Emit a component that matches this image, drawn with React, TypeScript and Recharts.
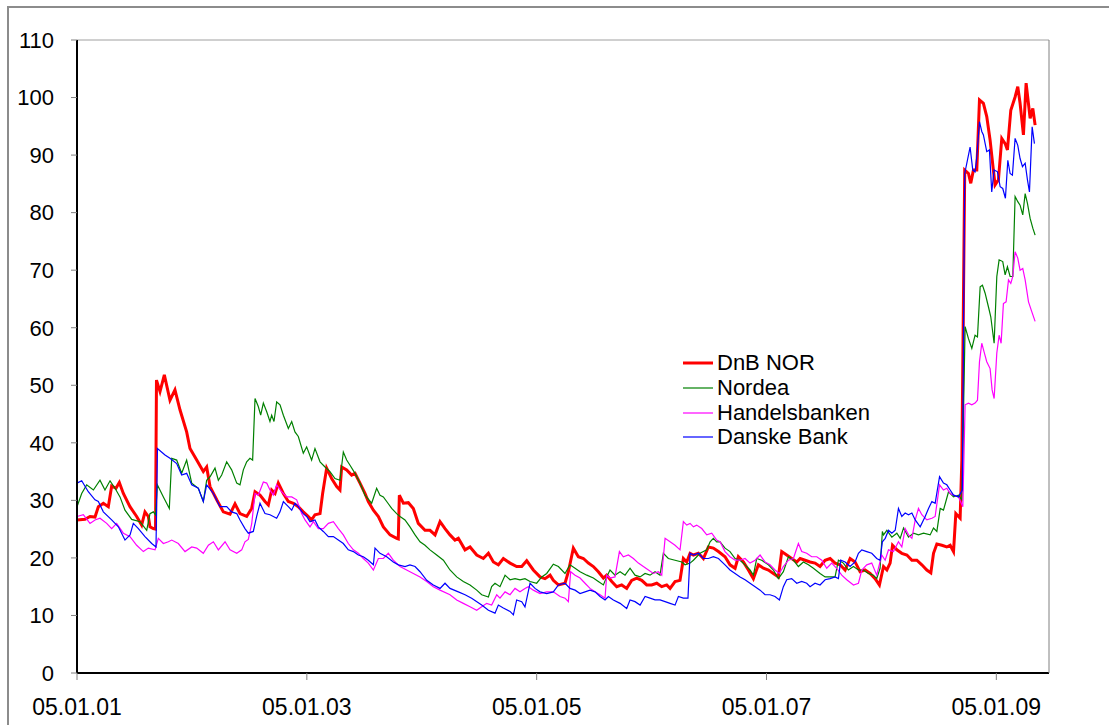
import React from 'react'
import { LineChart, Line, XAxis, YAxis, ReferenceLine, Legend } from 'recharts'

// x is months since 05.01.01, y is the series value
const xTickMonths = [0, 24, 48, 72, 96]
const xTickLabels = ['05.01.01', '05.01.03', '05.01.05', '05.01.07', '05.01.09']
const yTicks = [0, 10, 20, 30, 40, 50, 60, 70, 80, 90, 100, 110]

const dnbNor: [number, number][] = [
    [0, 26.6], [0.84, 26.7], [1.36, 27.2], [1.88, 27.1], [2.23, 28.9], [2.75, 29.5], [3.27, 28.9], [3.62, 32.5],
    [4.07, 32.1], [4.42, 33.1], [4.84, 31.2], [5.53, 28.9], [6.23, 27.2], [6.75, 25.7], [7.1, 28.0], [7.45, 27.2],
    [7.62, 25.4], [7.97, 25.1], [8.2, 25.0], [8.3, 50.9], [8.67, 48.9], [9.12, 51.8], [9.71, 47.4], [10.23, 49.2],
    [10.76, 45.7], [11.45, 41.9], [11.8, 39.0], [12.5, 37.0], [13.19, 35.0], [13.54, 35.8], [13.89, 32.4], [14.59, 30.1],
    [15.28, 28.0], [15.98, 27.6], [16.5, 29.4], [17.02, 27.7], [17.72, 27.2], [18.24, 28.6], [18.59, 31.5], [19.11, 30.9],
    [19.63, 29.8], [19.98, 29.2], [20.33, 31.8], [20.68, 31.2], [21.02, 33.0], [21.55, 31.2], [22.07, 29.8], [22.59, 29.5],
    [23.11, 28.9], [23.63, 28.0], [24.16, 27.2], [24.5, 26.6], [24.85, 27.5], [25.38, 27.7], [25.65, 31.2], [26.07, 35.6],
    [26.59, 33.8], [27.12, 32.4], [27.46, 31.8], [27.64, 35.8], [28.16, 35.3], [28.68, 34.4], [29.03, 34.7], [29.55, 33.0],
    [30.07, 31.2], [30.42, 29.8], [30.95, 28.3], [31.47, 27.2], [31.99, 25.4], [32.69, 24.0], [33.38, 23.4], [33.55, 23.3],
    [33.66, 30.9], [34.08, 29.5], [34.6, 29.6], [35.12, 28.6], [35.64, 26.0], [36.34, 24.8], [36.86, 24.8], [37.39, 24.0],
    [37.91, 26.3], [38.43, 25.1], [38.95, 24.0], [39.47, 23.1], [39.82, 23.4], [40.52, 21.4], [41.04, 21.9], [41.74, 20.5],
    [42.43, 19.9], [42.96, 20.8], [43.48, 19.3], [44.0, 18.8], [44.52, 19.9], [45.22, 19.1], [45.91, 18.5], [46.44, 18.5],
    [46.96, 19.5], [47.65, 17.9], [48.35, 16.7], [48.87, 16.4], [49.4, 17.0], [49.74, 16.1], [50.27, 15.3], [50.96, 15.6],
    [51.31, 17.6], [51.83, 21.7], [52.35, 20.2], [52.88, 19.9], [53.4, 19.1], [53.92, 18.5], [54.44, 17.6], [54.97, 16.5],
    [55.31, 17.0], [55.84, 15.9], [56.36, 15.0], [56.88, 15.3], [57.4, 14.7], [57.92, 16.1], [58.45, 16.5], [58.97, 16.1],
    [59.49, 15.3], [60.01, 15.3], [60.54, 15.6], [61.06, 15.0], [61.58, 15.3], [61.93, 14.7], [62.45, 15.9], [62.97, 16.1],
    [63.32, 19.9], [63.67, 19.3], [64.02, 20.8], [64.37, 20.5], [64.89, 20.8], [65.41, 19.9], [65.93, 21.9], [66.45, 21.7],
    [66.98, 21.1], [67.67, 20.2], [68.19, 18.8], [68.72, 18.2], [69.06, 20.2], [69.59, 19.3], [70.11, 17.9], [70.63, 16.4],
    [71.15, 18.8], [71.68, 18.2], [72.2, 17.9], [72.72, 17.3], [73.24, 16.7], [73.59, 21.1], [74.11, 20.5], [74.63, 19.9],
    [75.16, 19.3], [75.51, 19.9], [76.03, 19.6], [76.55, 19.3], [77.07, 19.1], [77.59, 18.5], [78.12, 19.6], [78.64, 19.9],
    [79.16, 19.1], [79.68, 18.8], [80.21, 17.9], [80.73, 19.9], [81.25, 19.3], [81.77, 17.6], [82.29, 17.9], [82.82, 17.3],
    [83.34, 16.4], [83.79, 15.3], [84.22, 18.5], [84.57, 17.9], [84.91, 19.1], [85.16, 22.2], [85.61, 21.4], [86.13, 20.8],
    [86.66, 20.5], [87.18, 19.6], [87.7, 19.6], [88.22, 18.8], [88.74, 17.9], [89.16, 17.4], [89.44, 20.8], [89.79, 22.4],
    [90.31, 22.2], [90.83, 21.9], [91.18, 22.2], [91.53, 21.1], [91.77, 27.7], [92.05, 27.2], [92.22, 26.9], [92.4, 37.0],
    [92.7, 87.4], [93.09, 86.8], [93.33, 85.1], [93.61, 87.4], [93.96, 87.4], [94.24, 99.6], [94.65, 99.0], [95.0, 96.7],
    [95.35, 92.6], [95.63, 88.3], [95.87, 84.8], [96.22, 85.7], [96.57, 92.9], [96.92, 92.0], [97.16, 90.9], [97.51, 97.8],
    [97.96, 100.1], [98.24, 101.9], [98.48, 99.0], [98.83, 93.5], [99.11, 102.5], [99.53, 96.4], [99.81, 98.1], [100.05, 95.2],
]

const nordea: [number, number][] = [
    [0, 28.9], [0.49, 31.2], [1.01, 32.7], [1.71, 31.8], [2.4, 33.5], [2.92, 31.8], [3.45, 33.4], [3.97, 32.1],
    [4.49, 30.6], [5.01, 28.3], [5.71, 26.7], [6.58, 26.3], [7.28, 24.8], [7.62, 27.7], [7.97, 28.0], [8.2, 27.5],
    [8.39, 32.7], [9.02, 30.6], [9.64, 28.6], [9.89, 37.3], [10.41, 37.0], [10.93, 34.7], [11.45, 37.0], [11.98, 33.0],
    [12.67, 32.1], [13.19, 29.8], [13.54, 33.5], [13.89, 34.1], [14.41, 35.6], [14.76, 33.5], [15.11, 34.4], [15.63, 36.7],
    [16.15, 35.3], [16.68, 33.0], [17.02, 32.7], [17.37, 35.3], [17.72, 36.7], [18.06, 37.3], [18.34, 37.0], [18.59, 47.7],
    [18.93, 46.3], [19.18, 44.8], [19.46, 46.9], [19.81, 45.4], [20.15, 43.7], [20.33, 44.8], [20.57, 43.7], [20.85, 47.1],
    [21.2, 46.6], [21.55, 44.8], [22.07, 42.5], [22.42, 43.7], [22.76, 41.9], [23.11, 41.1], [23.63, 38.2], [23.98, 39.3],
    [24.5, 37.0], [24.85, 39.0], [25.38, 36.7], [25.9, 35.8], [26.42, 35.0], [26.94, 33.8], [27.46, 33.5], [27.81, 38.4],
    [28.16, 37.0], [28.51, 36.1], [29.03, 34.7], [29.55, 33.0], [30.07, 30.9], [30.77, 29.5], [31.29, 32.1], [31.64, 30.9],
    [31.99, 30.6], [32.34, 29.8], [32.86, 28.6], [33.38, 27.7], [33.73, 27.2], [34.25, 26.6], [34.77, 25.4], [35.3, 24.0],
    [35.82, 22.8], [36.34, 22.2], [36.86, 21.4], [37.56, 20.5], [38.26, 19.6], [38.95, 17.9], [39.65, 16.7], [40.34, 15.9],
    [41.04, 15.3], [41.74, 14.4], [42.26, 13.6], [42.96, 13.2], [43.3, 15.0], [43.65, 15.6], [44.17, 15.0], [44.7, 17.0],
    [45.22, 16.2], [45.74, 16.4], [46.26, 16.2], [46.78, 16.4], [47.31, 15.9], [48.0, 15.6], [48.53, 16.7], [49.05, 17.3],
    [49.74, 18.9], [50.27, 18.5], [50.96, 17.3], [51.48, 18.8], [52.01, 18.2], [52.53, 17.6], [53.23, 17.0], [53.92, 16.5],
    [54.44, 15.9], [54.97, 15.3], [55.31, 16.7], [55.66, 17.9], [56.18, 17.0], [56.71, 17.6], [57.23, 17.0], [57.75, 18.2],
    [58.27, 17.0], [58.8, 16.7], [59.32, 17.3], [59.84, 17.0], [60.36, 17.6], [60.88, 17.0], [61.23, 20.8], [61.75, 19.9],
    [62.45, 19.6], [63.15, 19.3], [63.5, 18.8], [64.02, 19.1], [64.37, 19.6], [65.06, 20.8], [65.76, 21.4], [66.11, 22.8],
    [66.45, 23.4], [66.8, 22.8], [67.15, 22.8], [67.67, 21.7], [68.19, 21.1], [68.72, 19.9], [69.24, 19.6], [69.76, 18.8],
    [70.28, 17.9], [70.63, 17.0], [70.98, 19.9], [71.5, 19.6], [72.2, 18.8], [72.72, 17.9], [73.24, 16.4], [73.76, 17.6],
    [74.29, 20.2], [74.81, 19.6], [75.33, 18.5], [75.85, 19.3], [76.38, 18.8], [76.9, 18.2], [77.59, 17.3], [78.12, 16.7],
    [78.64, 16.7], [79.16, 16.7], [79.51, 19.6], [80.03, 19.1], [80.55, 17.9], [81.08, 18.5], [81.6, 17.9], [82.12, 17.9],
    [82.64, 17.3], [83.16, 17.0], [83.51, 16.4], [83.86, 18.2], [84.1, 24.6], [84.22, 24.0], [84.57, 24.8], [85.09, 23.6],
    [85.61, 24.3], [85.96, 23.4], [86.31, 25.2], [86.83, 23.6], [87.35, 24.3], [87.87, 24.0], [88.4, 24.3], [89.09, 24.0],
    [89.44, 25.2], [89.79, 24.6], [90.14, 28.6], [90.48, 28.3], [91.01, 31.5], [91.53, 30.6], [92.05, 30.9], [92.4, 30.1],
    [92.74, 60.2], [93.09, 58.1], [93.44, 56.4], [93.78, 58.7], [94.03, 58.4], [94.31, 67.1], [94.55, 67.4], [94.83, 66.0],
    [95.18, 63.6], [95.42, 61.9], [95.77, 57.3], [96.05, 68.9], [96.29, 71.8], [96.67, 71.5], [96.92, 69.2], [97.16, 70.6],
    [97.44, 68.9], [97.72, 68.9], [97.96, 82.8], [98.24, 81.9], [98.48, 81.3], [98.76, 79.6], [99.01, 83.3], [99.25, 81.6],
    [99.53, 79.0], [99.81, 77.3], [100.05, 76.1],
]

const handelsbanken: [number, number][] = [
    [0, 27.2], [0.66, 27.5], [1.36, 26.0], [1.88, 26.6], [2.4, 26.9], [3.1, 26.0], [3.62, 25.1], [4.14, 26.0],
    [4.84, 24.3], [5.54, 23.7], [6.23, 22.2], [6.93, 21.1], [7.45, 21.7], [8.15, 21.4], [8.49, 23.4], [9.02, 22.5],
    [9.54, 22.8], [9.89, 23.1], [10.58, 22.5], [11.28, 21.1], [11.98, 21.9], [12.5, 21.7], [13.19, 20.8], [13.72, 22.2],
    [14.24, 22.8], [14.76, 21.4], [15.46, 22.8], [15.98, 21.4], [16.68, 20.8], [17.2, 21.4], [17.54, 22.8], [17.89, 23.2],
    [18.24, 25.9], [18.59, 31.2], [18.93, 30.9], [19.46, 33.2], [19.81, 33.0], [20.15, 31.8], [20.5, 30.9], [20.85, 32.7],
    [21.37, 31.5], [21.89, 30.6], [22.42, 30.6], [22.94, 30.1], [23.46, 27.7], [23.81, 26.6], [24.33, 25.4], [24.68, 26.3],
    [25.2, 25.1], [25.72, 25.1], [26.25, 26.0], [26.77, 26.3], [27.29, 25.1], [27.81, 24.0], [28.33, 22.5], [28.86, 21.4],
    [29.38, 20.8], [29.9, 19.9], [30.42, 19.1], [30.95, 17.9], [31.47, 19.9], [31.99, 19.9], [32.51, 20.8], [33.03, 19.6],
    [33.73, 18.5], [34.77, 17.6], [35.82, 16.7], [36.52, 15.9], [37.21, 15.0], [37.91, 14.4], [38.95, 13.6], [39.65, 12.7],
    [40.34, 12.1], [41.04, 11.5], [41.74, 10.9], [42.26, 11.5], [42.78, 12.1], [43.3, 11.8], [43.83, 13.6], [44.17, 13.0],
    [44.7, 14.1], [45.22, 13.6], [45.74, 14.7], [46.26, 14.1], [46.78, 14.7], [47.13, 15.0], [47.65, 14.4], [48.35, 13.8],
    [49.05, 14.1], [49.74, 14.1], [50.44, 13.3], [50.96, 13.0], [51.31, 12.4], [51.55, 17.6], [52.01, 17.0], [52.53, 16.5],
    [53.05, 15.6], [53.57, 14.7], [54.1, 14.1], [54.62, 13.6], [55.14, 13.0], [55.31, 17.0], [55.66, 16.5], [56.18, 16.7],
    [56.64, 21.1], [57.05, 20.2], [57.58, 20.5], [58.1, 19.9], [58.62, 19.1], [59.14, 18.5], [59.67, 17.9], [60.19, 17.3],
    [60.71, 17.6], [61.06, 17.0], [61.41, 23.4], [61.93, 22.8], [62.45, 22.2], [62.97, 21.4], [63.32, 26.3], [63.67, 25.7],
    [64.02, 26.0], [64.37, 25.4], [64.71, 25.7], [65.24, 25.1], [65.76, 24.0], [66.28, 24.3], [66.8, 23.1], [67.15, 22.8],
    [67.67, 21.1], [68.19, 20.2], [68.72, 19.6], [69.24, 19.6], [69.76, 19.9], [70.28, 19.1], [70.81, 19.6], [71.33, 20.5],
    [71.85, 19.3], [72.37, 18.8], [72.89, 17.9], [73.35, 17.3], [73.76, 18.5], [74.29, 19.6], [74.81, 19.9], [75.33, 22.5],
    [75.68, 21.1], [76.2, 20.8], [76.72, 20.2], [77.25, 20.2], [77.77, 19.6], [78.29, 18.2], [78.81, 19.1], [79.33, 18.2],
    [79.86, 17.0], [80.38, 16.2], [81.08, 15.3], [81.6, 15.6], [81.95, 17.9], [82.47, 18.8], [82.99, 19.1], [83.51, 17.0],
    [84.03, 20.5], [84.39, 19.6], [84.74, 21.4], [85.26, 21.1], [85.78, 22.8], [86.13, 21.9], [86.48, 25.1], [86.83, 24.0],
    [87.18, 23.4], [87.53, 26.6], [87.87, 28.6], [88.22, 27.5], [88.74, 26.6], [89.27, 26.9], [89.61, 27.2], [90.07, 32.7],
    [90.48, 31.8], [90.83, 32.1], [91.18, 31.2], [91.53, 30.9], [92.05, 30.6], [92.5, 28.9], [92.74, 46.6], [93.09, 46.9],
    [93.44, 46.6], [93.78, 46.9], [94.03, 47.4], [94.24, 54.1], [94.48, 57.3], [94.72, 55.8], [95.0, 54.1], [95.35, 52.9],
    [95.56, 49.2], [95.77, 47.7], [96.05, 55.6], [96.29, 58.7], [96.5, 57.3], [96.74, 64.2], [97.02, 64.5], [97.27, 68.3],
    [97.51, 67.7], [97.72, 68.9], [97.96, 73.2], [98.24, 72.1], [98.48, 70.0], [98.76, 70.3], [99.01, 68.3], [99.36, 64.5],
    [99.7, 62.8], [100.05, 61.1],
]

const danskeBank: [number, number][] = [
    [0, 33.0], [0.49, 33.4], [1.18, 31.5], [1.88, 30.1], [2.23, 29.8], [2.75, 28.0], [3.62, 26.6], [4.32, 25.4],
    [5.01, 23.1], [5.54, 24.0], [5.88, 26.0], [6.41, 25.1], [7.1, 23.7], [7.8, 22.5], [8.25, 21.9], [8.4, 39.0],
    [9.19, 37.9], [9.71, 37.3], [10.41, 36.4], [10.93, 34.4], [11.45, 34.7], [11.98, 32.7], [12.67, 32.1], [13.19, 29.8],
    [13.54, 32.7], [14.24, 31.2], [14.93, 28.9], [15.63, 28.9], [16.15, 28.0], [16.68, 27.7], [17.02, 26.6], [17.54, 25.1],
    [17.89, 24.3], [18.41, 24.6], [18.76, 27.2], [19.11, 29.5], [19.63, 27.7], [20.15, 27.5], [20.85, 26.9], [21.2, 28.0],
    [21.55, 29.8], [22.07, 28.9], [22.42, 28.3], [22.76, 29.5], [23.11, 28.9], [23.63, 27.7], [23.98, 27.2], [24.33, 26.3],
    [24.85, 26.6], [25.2, 25.4], [25.72, 24.6], [26.25, 23.7], [26.77, 23.7], [27.29, 23.1], [27.81, 22.5], [28.33, 21.4],
    [28.86, 21.1], [29.38, 20.5], [29.9, 20.2], [30.42, 19.6], [30.95, 18.8], [31.12, 21.7], [31.64, 20.8], [32.34, 20.2],
    [33.03, 19.3], [33.56, 18.8], [34.25, 18.5], [34.77, 18.8], [35.3, 18.5], [35.82, 17.6], [36.52, 16.1], [37.21, 15.3],
    [37.91, 14.7], [38.43, 15.6], [38.95, 14.7], [39.82, 14.1], [40.52, 13.6], [41.21, 13.0], [42.26, 11.8], [42.96, 10.9],
    [43.65, 10.4], [44.0, 11.8], [44.52, 11.3], [45.22, 10.7], [45.57, 10.1], [45.91, 12.7], [46.44, 12.4], [46.78, 11.5],
    [47.31, 15.6], [47.83, 14.7], [48.35, 14.1], [49.05, 13.8], [49.74, 14.1], [50.27, 15.3], [50.96, 15.6], [51.48, 14.7],
    [52.01, 14.4], [52.53, 13.8], [53.05, 14.1], [53.57, 14.4], [54.1, 14.1], [54.62, 13.3], [55.14, 12.7], [55.49, 13.3],
    [56.01, 12.7], [56.71, 12.1], [57.4, 11.2], [57.75, 12.7], [58.27, 12.4], [58.8, 11.8], [59.32, 13.3], [59.84, 13.0],
    [60.36, 12.7], [60.88, 12.7], [61.41, 12.4], [61.93, 12.1], [62.45, 11.8], [62.8, 13.3], [63.32, 13.0], [63.8, 13.0],
    [64.02, 20.8], [64.37, 20.5], [64.89, 20.8], [65.41, 19.9], [65.93, 19.9], [66.45, 20.2], [66.98, 19.9], [67.67, 18.8],
    [68.19, 17.9], [68.72, 17.3], [69.24, 16.7], [69.76, 16.2], [70.28, 15.6], [70.81, 15.0], [71.33, 14.4], [71.85, 13.6],
    [72.37, 13.6], [72.89, 13.3], [73.35, 12.7], [73.76, 15.0], [74.11, 16.2], [74.63, 16.4], [75.16, 15.6], [75.68, 15.9],
    [76.2, 15.6], [76.55, 15.0], [77.07, 15.6], [77.59, 15.3], [78.12, 16.2], [78.64, 16.4], [79.16, 16.7], [79.51, 16.4],
    [79.75, 19.6], [80.21, 19.3], [80.73, 18.5], [81.25, 19.3], [81.6, 20.8], [81.95, 21.4], [82.47, 21.1], [82.99, 20.8],
    [83.51, 19.9], [83.86, 19.6], [84.1, 22.8], [84.4, 23.4], [84.74, 24.8], [85.09, 24.3], [85.44, 24.8], [85.78, 28.6],
    [86.13, 27.2], [86.48, 27.8], [86.83, 27.5], [87.18, 27.8], [87.53, 26.6], [88.05, 25.4], [88.57, 27.2], [88.92, 28.6],
    [89.27, 29.8], [89.61, 29.5], [90.07, 34.1], [90.48, 33.0], [90.83, 32.7], [91.18, 31.8], [91.53, 30.9], [92.05, 30.6],
    [92.45, 31.8], [92.7, 86.8], [93.26, 91.4], [93.54, 87.4], [93.78, 87.1], [93.96, 89.7], [94.24, 95.8], [94.48, 94.1],
    [94.65, 93.5], [95.0, 90.6], [95.28, 90.9], [95.52, 83.6], [95.77, 87.4], [96.12, 87.1], [96.4, 84.5], [96.67, 84.2],
    [96.95, 82.5], [97.2, 89.1], [97.44, 86.8], [97.68, 86.5], [97.96, 92.9], [98.24, 91.7], [98.48, 89.4], [98.73, 88.0],
    [99.01, 88.6], [99.25, 85.7], [99.46, 83.6], [99.74, 94.9], [99.98, 92.0],
]

const seriesNames = ['DnB NOR', 'Nordea', 'Handelsbanken', 'Danske Bank']
const seriesData = [dnbNor, nordea, handelsbanken, danskeBank]
const seriesColors = ['#ff0000', '#008000', '#ff00ff', '#0000ff']
const seriesWidths = [3, 1.2, 1.2, 1.2]

const FONT = '"Liberation Sans", Arial, sans-serif'
const yTickStyle = { fill: '#000', fontSize: 22, fontFamily: FONT }
const xTickStyle = { fill: '#000', fontSize: 23, fontFamily: FONT }

const toPoints = (pairs: [number, number][]) => pairs.map(([m, v]) => ({ m, v }))

function ChartLegend() {
    return (
        <div style={{ fontFamily: FONT }}>
            {seriesNames.map((name, i) => (
                <div key={name} style={{ display: 'flex', alignItems: 'center', height: 24.7 }}>
                    <svg width={34} height={6} style={{ display: 'block' }}>
                        <line x1={0} x2={30} y1={3} y2={3} stroke={seriesColors[i]} strokeWidth={seriesWidths[i]} />
                    </svg>
                    <span style={{ fontSize: 22, lineHeight: '22px', color: '#000', whiteSpace: 'nowrap' }}>{name}</span>
                </div>
            ))}
        </div>
    )
}

export default function App() {
    return (
        <div style={{ position: 'absolute', left: 0, top: 0, width: 1109, height: 725, overflow: 'hidden', background: '#fff' }}>
            <div style={{ position: 'absolute', left: 7, top: 6, width: 1200, height: 800, border: '2px solid #8c8c8c' }} />
            <div style={{ position: 'absolute', left: 0, top: 0 }}>
                <LineChart width={1109} height={725} margin={{ top: 40, right: 5, bottom: 12, left: 17 }}>
                    <XAxis
                        type="number"
                        dataKey="m"
                        scale="linear"
                        domain={[0, 101.5]}
                        ticks={xTickMonths}
                        interval={0}
                        tickFormatter={(m) => xTickLabels[xTickMonths.indexOf(m)] ?? ''}
                        axisLine={{ stroke: '#000', strokeWidth: 2 }}
                        tickLine={{ stroke: '#808080' }}
                        tickSize={7}
                        tickMargin={19}
                        tick={xTickStyle}
                        height={40}
                    />
                    <YAxis
                        yAxisId="left"
                        domain={[0, 110]}
                        ticks={yTicks}
                        interval={0}
                        width={60}
                        axisLine={{ stroke: '#000', strokeWidth: 2 }}
                        tickLine={{ stroke: '#808080' }}
                        tickSize={6}
                        tickMargin={17}
                        tick={yTickStyle}
                    />
                    <YAxis
                        yAxisId="right"
                        orientation="right"
                        domain={[0, 110]}
                        ticks={yTicks}
                        interval={0}
                        width={55}
                        axisLine={{ stroke: '#808080' }}
                        tickLine={{ stroke: '#808080' }}
                        tickSize={6}
                        tickMargin={15}
                        tick={yTickStyle}
                    />
                    <ReferenceLine yAxisId="left" y={110} stroke="#a0a0a0" />
                    {seriesNames.map((name, i) => (
                        <Line
                            key={name}
                            yAxisId="left"
                            type="linear"
                            data={toPoints(seriesData[i])}
                            dataKey="v"
                            name={name}
                            stroke={seriesColors[i]}
                            strokeWidth={seriesWidths[i]}
                            dot={false}
                            activeDot={false}
                            isAnimationActive={false}
                        />
                    ))}
                    <Legend
                        layout="vertical"
                        align="center"
                        verticalAlign="middle"
                        wrapperStyle={{ left: 683, top: 351, width: 220 }}
                        content={() => <ChartLegend />}
                    />
                </LineChart>
            </div>
        </div>
    )
}
